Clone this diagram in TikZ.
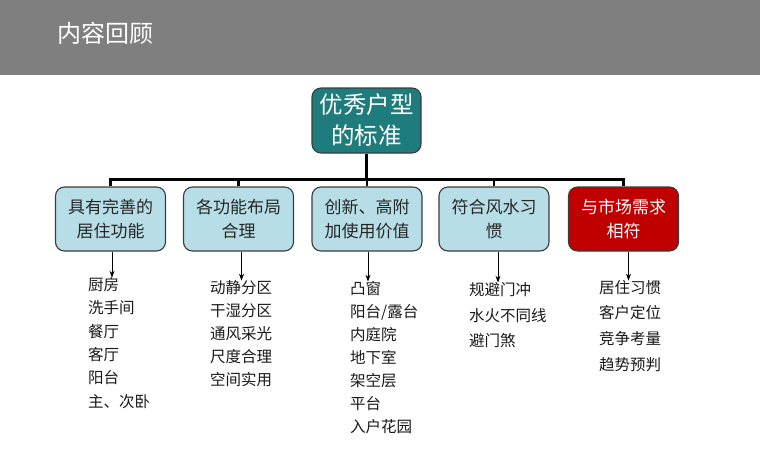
\documentclass[tikz,border=0pt]{standalone}
\usepackage{fontspec}
\setmainfont{Noto Sans CJK SC}
\usetikzlibrary{arrows.meta}
\definecolor{headgray}{RGB}{127,127,127}
\definecolor{teal1}{RGB}{30,124,124}
\definecolor{lightbox}{RGB}{183,222,230}
\definecolor{redbox}{RGB}{192,0,0}
\definecolor{edgegray}{RGB}{60,60,60}
\begin{document}
\begin{tikzpicture}[x=1pt,y=-1pt,
  boxbase/.style={draw=edgegray, line width=1.1pt, rounded corners=9pt, align=center, inner sep=2pt},
  topbox/.style={boxbase, fill=teal1, text=white, minimum width=109pt, minimum height=65pt, font=\fontsize{23.5}{31}\selectfont},
  catbox/.style={boxbase, fill=lightbox, text=black!85, minimum width=110pt, minimum height=64pt, font=\fontsize{17}{23.5}\selectfont},
  redcat/.style={catbox, fill=redbox, text=white},
  barline/.style={line width=2.6pt, black},
  arr/.style={line width=0.8pt, black, -{Stealth[length=7pt,width=5pt]}},
  item/.style={anchor=west, inner sep=0pt, font=\fontsize{15.5}{18}\selectfont, text=black!90}
]
\useasboundingbox (0,0) rectangle (760,463);
\fill[headgray] (0,0) rectangle (760,75);
\node[anchor=west, text=white, inner sep=0pt, font=\fontsize{24}{28}\selectfont] (title) at (57,33) {内容回顾};

\node[topbox] (top) at (366.5,120.5) {优秀户型\\的标准};

\node[catbox] (b1) at (110.5,219) {具有完善的\\居住功能};
\node[catbox] (b2) at (238.5,219) {各功能布局\\合理};
\node[catbox] (b3) at (367,219) {创新、高附\\加使用价值};
\node[catbox] (b4) at (494,219) {符合风水习\\惯};
\node[redcat] (b5) at (623.5,219) {与市场需求\\相符};

\draw[barline] (top.south) -- ++(0,27);
\draw[barline] (b1.north) -- ++(0,-7) -| (b5.north);
\draw[barline] (b2.north) -- ++(0,-7);
\draw[barline] (b3.north) -- ++(0,-7);
\draw[barline] (b4.north) -- ++(0,-7);

% list 1
\node[item] (l1a) at (88,285) {厨房};
\node[item] (l1b) at (88,308) {洗手间};
\node[item] (l1c) at (88,332) {餐厅};
\node[item] (l1d) at (88,355) {客厅};
\node[item] (l1e) at (88,378) {阳台};
\node[item] (l1f) at (88,402) {主、次卧};
% list 2
\node[item] (l2a) at (210,288) {动静分区};
\node[item] (l2b) at (210,311) {干湿分区};
\node[item] (l2c) at (210,334) {通风采光};
\node[item] (l2d) at (210,357) {尺度合理};
\node[item] (l2e) at (210,380) {空间实用};
% list 3
\node[item] (l3a) at (350,289) {凸窗};
\node[item] (l3b) at (350,312) {阳台/露台};
\node[item] (l3c) at (350,335) {内庭院};
\node[item] (l3d) at (350,358) {地下室};
\node[item] (l3e) at (350,381) {架空层};
\node[item] (l3f) at (350,404) {平台};
\node[item] (l3g) at (350,427) {入户花园};
% list 4
\node[item] (l4a) at (469,290) {规避门冲};
\node[item] (l4b) at (469,316) {水火不同线};
\node[item] (l4c) at (469,341) {避门煞};
% list 5
\node[item] (l5a) at (599,288) {居住习惯};
\node[item] (l5b) at (599,313) {客户定位};
\node[item] (l5c) at (599,339) {竞争考量};
\node[item] (l5d) at (599,365) {趋势预判};

\draw[arr] ([xshift=1.5pt]b1.south) -- ([xshift=1.5pt]b1.south |- l1a.north);
\draw[arr] ([xshift=3pt]b2.south) -- ([xshift=3pt]b2.south |- l2a.north);
\draw[arr] ([xshift=1pt]b3.south) -- ([xshift=1pt]b3.south |- l3a.north);
\draw[arr] ([xshift=4pt]b4.south) -- ([xshift=4pt]b4.south |- l4a.north);
\draw[arr] ([xshift=5pt]b5.south) -- ([xshift=5pt]b5.south |- l5a.north);
\end{tikzpicture}
\end{document}
